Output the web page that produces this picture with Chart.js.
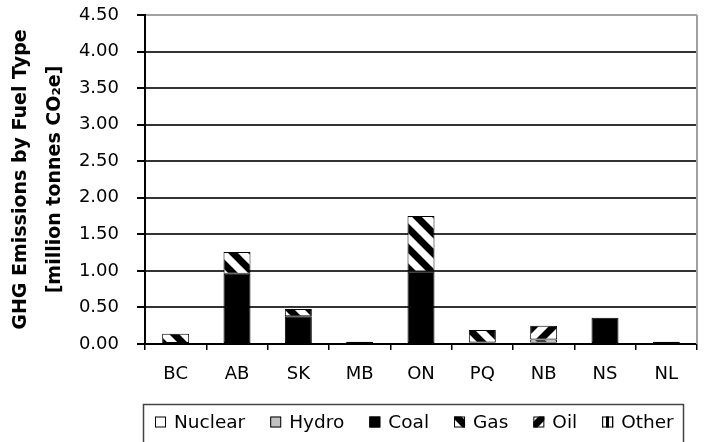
<!DOCTYPE html>
<html>
<head>
<meta charset="utf-8">
<script src="https://cdn.jsdelivr.net/npm/chart.js@4/dist/chart.umd.min.js"></script>
<style>
  html, body { margin: 0; padding: 0; background: #fff; }
  #wrap { width: 705px; height: 442px; }
</style>
</head>
<body>
<div id="wrap"><canvas id="c" width="705" height="442"></canvas></div>
<script>
// Provinces along the category axis
const provinces = ['BC', 'AB', 'SK', 'MB', 'ON', 'PQ', 'NB', 'NS', 'NL'];

// Emissions by fuel type, million tonnes CO2e
const nuclear = [0, 0, 0, 0, 0, 0, 0, 0, 0];
const hydro   = [0, 0, 0, 0, 0, 0.02, 0.02, 0, 0];
const coal    = [0, 0.96, 0.38, 0.03, 0.99, 0, 0, 0.36, 0];
const gas     = [0.14, 0.30, 0.10, 0, 0.76, 0.17, 0.04, 0, 0];
const oil     = [0, 0, 0, 0, 0, 0, 0.19, 0, 0.03];
const other   = [0, 0, 0, 0, 0, 0, 0, 0, 0];

const fuelLabels = ['Nuclear', 'Hydro', 'Coal', 'Gas', 'Oil', 'Other'];
const yTitle = ['GHG Emissions by Fuel Type', '[million tonnes CO\u2082e]'];

// Black-and-white fill patterns (seamless diagonal stripes)
function hatch(kind) {
  const s = kind === 'other' ? 6 : 20;
  const c = document.createElement('canvas');
  c.width = s; c.height = s;
  const g = c.getContext('2d');
  g.fillStyle = '#fff';
  g.fillRect(0, 0, s, s);
  g.fillStyle = '#000';
  g.strokeStyle = '#000';
  if (kind === 'other') {
    g.fillRect(0, 0, 3, s);
  } else {
    g.lineWidth = 7;
    g.beginPath();
    for (let o = -s; o <= s; o += s) {
      if (kind === 'back') { g.moveTo(o - s, -s); g.lineTo(o + 2 * s, 2 * s); }
      else { g.moveTo(o - s, 2 * s); g.lineTo(o + 2 * s, -s); }
    }
    g.stroke();
  }
  return g.createPattern(c, 'repeat');
}

const fills = ['#ffffff', '#c0c0c0', '#000000', hatch('back'), hatch('fwd'), hatch('other')];
const series = [nuclear, hydro, coal, gas, oil, other];

const FONT = 'DejaVu Sans';

// Boxed legend row under the axis
const boxLegend = {
  id: 'boxLegend',
  afterDraw(chart) {
    const ctx = chart.ctx;
    ctx.save();
    ctx.strokeStyle = '#444';
    ctx.lineWidth = 1.5;
    ctx.strokeRect(143.5, 404.5, 540, 42);
    ctx.font = '18.5px "' + FONT + '"';
    ctx.textBaseline = 'middle';
    ctx.textAlign = 'left';
    let x = 155;
    const cy = 422;
    chart.data.datasets.forEach(ds => {
      ctx.fillStyle = ds.backgroundColor;
      ctx.fillRect(x, cy - 5.5, 11, 11);
      ctx.strokeStyle = '#000';
      ctx.lineWidth = 1;
      ctx.strokeRect(x + 0.5, cy - 5, 10, 10);
      ctx.fillStyle = '#000';
      ctx.fillText(ds.label, x + 19, cy + 1);
      x += 19 + ctx.measureText(ds.label).width + 25;
    });
    ctx.restore();
  }
};

// Grey frame on the right edge of the plot
const rightFrame = {
  id: 'rightFrame',
  afterDatasetsDraw(chart) {
    const a = chart.chartArea, ctx = chart.ctx;
    ctx.save();
    ctx.strokeStyle = '#a0a0a0';
    ctx.lineWidth = 2;
    ctx.beginPath();
    ctx.moveTo(a.right, a.top);
    ctx.lineTo(a.right, a.bottom);
    ctx.stroke();
    ctx.restore();
  }
};

new Chart(document.getElementById('c'), {
  type: 'bar',
  data: {
    labels: provinces,
    datasets: fuelLabels.map((name, i) => ({
      label: name,
      data: series[i].map(v => (v > 0 ? v : null)),
      backgroundColor: fills[i],
      borderColor: '#000',
      borderWidth: 1,
      borderSkipped: false,
      barPercentage: 0.44,
      categoryPercentage: 1
    }))
  },
  options: {
    responsive: false,
    animation: false,
    layout: { padding: { left: 0, right: 8, top: 15, bottom: 38 } },
    plugins: { legend: { display: false }, tooltip: { enabled: false } },
    scales: {
      x: {
        stacked: true,
        offset: true,
        border: { color: '#000', width: 2 },
        grid: { offset: true, drawOnChartArea: false, drawTicks: true, tickLength: 6, color: '#000', lineWidth: 1.5 },
        ticks: { color: '#000', padding: 14, font: { family: FONT, size: 18 }, maxRotation: 0 },
        afterFit(s) { s.height = 60; }
      },
      y: {
        stacked: true,
        min: 0,
        max: 4.5,
        border: { color: '#000', width: 2 },
        grid: {
          color: c => (c.tick && c.tick.value === 4.5 ? '#a0a0a0' : '#333'),
          lineWidth: 2,
          drawTicks: true,
          tickLength: 8,
          tickColor: '#000'
        },
        ticks: {
          stepSize: 0.5,
          color: '#000',
          padding: 18,
          font: { family: FONT, size: 18 },
          callback: v => Number(v).toFixed(2)
        },
        title: {
          display: true,
          text: yTitle,
          color: '#000',
          font: { family: FONT, size: 19, weight: 'bold', lineHeight: 1.8 },
          padding: { top: 4, bottom: 0 }
        },
        afterFit(s) {
          s.width = 145;
          s.paddingTop = 0;
          s.paddingBottom = 0;
        }
      }
    }
  },
  plugins: [boxLegend, rightFrame]
});
</script>
</body>
</html>
